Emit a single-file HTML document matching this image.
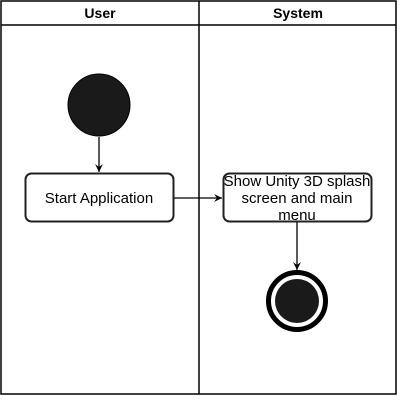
<!DOCTYPE html>
<html><head><meta charset="utf-8"><style>
html,body{margin:0;padding:0;background:#fff;}
svg{display:block;}
text{font-family:"Liberation Sans",Arial,sans-serif;}
</style></head><body>
<svg width="409" height="415" viewBox="0 0 409 415" xmlns="http://www.w3.org/2000/svg">
<defs><marker id="a" markerWidth="10" markerHeight="10" refX="8" refY="5" orient="auto" markerUnits="userSpaceOnUse"><path d="M0,1 L8,5 L0,9 L3,5 Z" fill="#000"/></marker></defs>
<rect x="1" y="1" width="395" height="393" fill="#fff" stroke="#000" stroke-width="1.5"/>
<line x1="1" y1="25" x2="396" y2="25" stroke="#000" stroke-width="1.5"/>
<line x1="199" y1="1" x2="199" y2="394" stroke="#000" stroke-width="1.5"/>
<text x="100" y="18" font-size="14" font-weight="bold" text-anchor="middle">User</text>
<text x="298" y="18" font-size="14" font-weight="bold" text-anchor="middle">System</text>
<circle cx="99" cy="105" r="31" fill="#1a1a1a" stroke="#000"/>
<line x1="99" y1="137" x2="99" y2="172" stroke="#000" stroke-width="1.3" marker-end="url(#a)"/>
<rect x="25.5" y="173.5" width="148" height="48" rx="6" fill="#fff" stroke="#222" stroke-width="2"/>
<text x="99" y="203" font-size="15" text-anchor="middle">Start Application</text>
<line x1="174" y1="198" x2="222" y2="198" stroke="#000" stroke-width="1.3" marker-end="url(#a)"/>
<rect x="223.5" y="173.5" width="148" height="48" rx="6" fill="#fff" stroke="#222" stroke-width="2"/>
<text x="297" y="186" font-size="15" text-anchor="middle">Show Unity 3D splash</text>
<text x="297" y="203" font-size="15" text-anchor="middle">screen and main</text>
<text x="297" y="220" font-size="15" text-anchor="middle">menu</text>
<line x1="297" y1="222" x2="297" y2="270" stroke="#000" stroke-width="1.3" marker-end="url(#a)"/>
<circle cx="297" cy="301" r="28.5" fill="#fff" stroke="#000" stroke-width="5"/>
<circle cx="297" cy="301" r="22" fill="#1a1a1a"/>
</svg>
</body></html>
